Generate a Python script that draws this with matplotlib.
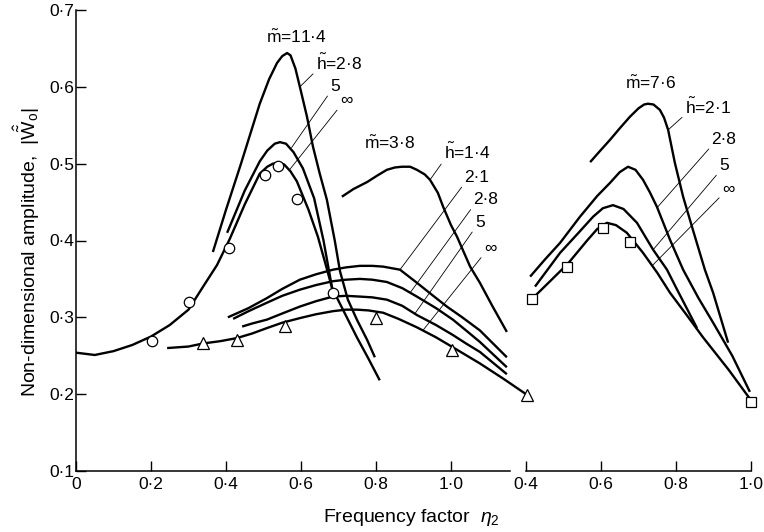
import matplotlib.pyplot as plt

plt.rcParams['font.family'] = ['Liberation Sans', 'DejaVu Sans']
plt.rcParams['mathtext.fontset'] = 'custom'
plt.rcParams['mathtext.rm'] = 'Liberation Sans'
plt.rcParams['mathtext.it'] = 'Liberation Sans:italic'

# ---- left panel: m~ = 11.4 (circles) ----
m114_h28_x = [0.365, 0.40, 0.44, 0.49, 0.515, 0.536, 0.55, 0.563, 0.572, 0.585, 0.597, 0.616, 0.632, 0.65,
              0.669, 0.69, 0.704, 0.725, 0.749, 0.776, 0.797]
m114_h28_y = [0.385, 0.44, 0.50, 0.578, 0.610, 0.631, 0.640, 0.644, 0.641, 0.624, 0.600, 0.561, 0.522, 0.487,
              0.453, 0.400, 0.360, 0.323, 0.297, 0.271, 0.248]
m114_h5_x = [0.403, 0.45, 0.49, 0.51, 0.53, 0.544, 0.56, 0.58, 0.605, 0.635, 0.66, 0.683]
m114_h5_y = [0.410, 0.465, 0.503, 0.517, 0.526, 0.528, 0.526, 0.515, 0.494, 0.455, 0.400, 0.338]
m114_inf_x = [0.0, 0.05, 0.1, 0.15, 0.2, 0.25, 0.3, 0.339, 0.376, 0.41, 0.45, 0.49, 0.51, 0.525, 0.539, 0.555,
              0.572, 0.589, 0.62, 0.645, 0.665, 0.683, 0.717, 0.749, 0.779, 0.81]
m114_inf_y = [0.254, 0.251, 0.256, 0.264, 0.275, 0.290, 0.310, 0.340, 0.368, 0.402, 0.447, 0.487, 0.496, 0.500,
              0.501, 0.499, 0.490, 0.477, 0.440, 0.405, 0.370, 0.338, 0.305, 0.274, 0.247, 0.218]
circles_x = [0.202, 0.30, 0.408, 0.504, 0.539, 0.589, 0.685]
circles_y = [0.269, 0.32, 0.39, 0.485, 0.497, 0.454, 0.332]

# ---- left panel: m~ = 3.8 (triangles) ----
m38_h14_x = [0.709, 0.74, 0.776, 0.805, 0.829, 0.85, 0.869, 0.891, 0.909, 0.93, 0.944, 0.965, 0.979, 1.0,
             1.016, 1.051, 1.077, 1.11, 1.149]
m38_h14_y = [0.457, 0.467, 0.476, 0.485, 0.492, 0.495, 0.496, 0.496, 0.492, 0.486, 0.479, 0.462, 0.444, 0.420,
             0.405, 0.366, 0.345, 0.315, 0.281]
m38_h21_x = [0.405, 0.46, 0.509, 0.55, 0.597, 0.64, 0.685, 0.72, 0.757, 0.79, 0.819, 0.864, 0.909, 0.95, 0.989,
             1.03, 1.077, 1.149]
m38_h21_y = [0.300, 0.312, 0.325, 0.337, 0.349, 0.356, 0.362, 0.365, 0.367, 0.367, 0.366, 0.362, 0.345, 0.329,
             0.314, 0.300, 0.283, 0.248]
m38_h28_x = [0.419, 0.46, 0.509, 0.55, 0.597, 0.64, 0.685, 0.72, 0.757, 0.79, 0.829, 0.87, 0.909, 0.96, 1.005,
             1.04, 1.077, 1.149]
m38_h28_y = [0.298, 0.308, 0.319, 0.328, 0.336, 0.342, 0.347, 0.349, 0.350, 0.349, 0.346, 0.338, 0.327, 0.312,
             0.297, 0.283, 0.268, 0.235]
m38_h5_x = [0.443, 0.47, 0.509, 0.55, 0.597, 0.64, 0.685, 0.72, 0.757, 0.79, 0.829, 0.87, 0.909, 0.96, 1.005,
            1.04, 1.077, 1.149]
m38_h5_y = [0.288, 0.292, 0.297, 0.305, 0.314, 0.321, 0.327, 0.328, 0.327, 0.326, 0.323, 0.315, 0.303, 0.290,
            0.277, 0.266, 0.255, 0.226]
m38_inf_x = [0.243, 0.30, 0.339, 0.385, 0.429, 0.47, 0.509, 0.55, 0.597, 0.64, 0.685, 0.72, 0.749, 0.78, 0.819,
             0.86, 0.909, 0.96, 1.005, 1.077, 1.14, 1.203]
m38_inf_y = [0.260, 0.262, 0.266, 0.269, 0.273, 0.279, 0.286, 0.293, 0.299, 0.304, 0.308, 0.310, 0.310, 0.309,
             0.306, 0.298, 0.287, 0.274, 0.261, 0.240, 0.220, 0.199]
triangles_x = [0.339, 0.429, 0.557, 0.80, 1.003, 1.203]
triangles_y = [0.267, 0.271, 0.289, 0.299, 0.258, 0.199]

# ---- right panel: m~ = 7.6 (squares) ----
m76_h21_x = [0.571, 0.60, 0.624, 0.65, 0.677, 0.70, 0.715, 0.725, 0.74, 0.757, 0.768, 0.779, 0.797, 0.819,
             0.845, 0.877, 0.899, 0.939]
m76_h21_y = [0.502, 0.518, 0.531, 0.546, 0.561, 0.572, 0.577, 0.578, 0.577, 0.570, 0.560, 0.544, 0.501, 0.457,
             0.414, 0.362, 0.332, 0.267]
m76_h28_x = [0.411, 0.45, 0.491, 0.544, 0.59, 0.624, 0.65, 0.672, 0.692, 0.712, 0.73, 0.749, 0.784, 0.819,
             0.86, 0.899, 0.95, 0.997]
m76_h28_y = [0.353, 0.375, 0.397, 0.431, 0.458, 0.475, 0.489, 0.496, 0.492, 0.479, 0.463, 0.444, 0.401, 0.362,
             0.325, 0.293, 0.250, 0.203]
m76_h5_x = [0.424, 0.491, 0.54, 0.579, 0.605, 0.632, 0.66, 0.696, 0.739, 0.776, 0.803, 0.856]
m76_h5_y = [0.340, 0.384, 0.410, 0.431, 0.442, 0.446, 0.441, 0.423, 0.388, 0.362, 0.336, 0.286]
m76_inf_x = [0.416, 0.46, 0.512, 0.563, 0.59, 0.616, 0.64, 0.669, 0.712, 0.75, 0.784, 0.83, 0.872, 0.94, 1.0]
m76_inf_y = [0.324, 0.345, 0.370, 0.400, 0.415, 0.423, 0.420, 0.410, 0.384, 0.358, 0.332, 0.302, 0.274, 0.232,
             0.192]
squares_x = [0.416, 0.509, 0.605, 0.677, 1.0]
squares_y = [0.324, 0.366, 0.416, 0.398, 0.19]

xticks_left = [0, 0.2, 0.4, 0.6, 0.8, 1.0]
xticklabels_left = ['0', '0·2', '0·4', '0·6', '0·8', '1·0']
xticks_right = [0.4, 0.6, 0.8, 1.0]
xticklabels_right = ['0·4', '0·6', '0·8', '1·0']
yticks = [0.1, 0.2, 0.3, 0.4, 0.5, 0.6, 0.7]
yticklabels = ['0·1', '0·2', '0·3', '0·4', '0·5', '0·6', '0·7']

W, H = 764, 532
fig = plt.figure(figsize=(W / 100, H / 100), dpi=100)
ax1 = fig.add_axes([76 / W, 61 / H, 450 / W, 461 / H])
ax2 = fig.add_axes([526 / W, 61 / H, 225 / W, 461 / H])

lw = 1.7
for ax in (ax1, ax2):
    ax.set_ylim(0.1, 0.7)
    ax.patch.set_alpha(0)
    for s in ('top', 'right'):
        ax.spines[s].set_visible(False)
    ax.spines['bottom'].set_linewidth(1.1)
    ax.spines['left'].set_linewidth(1.1)
    ax.tick_params(direction='in', length=7, width=1, labelsize=12.5, pad=4)

# left panel
ax1.set_xlim(0, 1.2)
ax1.spines['bottom'].set_bounds(0, 1.157)
ax1.set_xticks(xticks_left, xticklabels_left)
ax1.set_yticks(yticks, yticklabels)
ax1.tick_params(axis='y', pad=1)

for xs, ys in [(m114_h28_x, m114_h28_y), (m114_h5_x, m114_h5_y), (m114_inf_x, m114_inf_y),
               (m38_h14_x, m38_h14_y), (m38_h21_x, m38_h21_y), (m38_h28_x, m38_h28_y),
               (m38_h5_x, m38_h5_y), (m38_inf_x, m38_inf_y)]:
    ax1.plot(xs, ys, color='black', lw=lw, clip_on=False, solid_capstyle='butt')
ax1.plot(circles_x, circles_y, 'o', ms=7.5, mfc='white', mec='black', mew=0.9, clip_on=False)
ax1.plot(triangles_x, triangles_y, '^', ms=8.5, mfc='white', mec='black', mew=0.9, clip_on=False)

# right panel
ax2.set_xlim(0.4, 1.0)
ax2.spines['left'].set_visible(False)
ax2.spines['bottom'].set_bounds(0.4, 1.0)
ax2.set_xticks(xticks_right, xticklabels_right)
ax2.set_yticks([])
for xs, ys in [(m76_h21_x, m76_h21_y), (m76_h28_x, m76_h28_y), (m76_h5_x, m76_h5_y), (m76_inf_x, m76_inf_y)]:
    ax2.plot(xs, ys, color='black', lw=lw, clip_on=False, solid_capstyle='butt')
ax2.plot(squares_x, squares_y, 's', ms=7, mfc='white', mec='black', mew=0.9, clip_on=False)

# curve labels with leader lines
fs = 12.5
lead = dict(arrowstyle='-', lw=0.6, color='black', shrinkA=0, shrinkB=0)
ax1.text(0.587, 0.664, r'$\tilde{\mathrm{m}}$=11·4', fontsize=fs, ha='center', va='center')
ax1.text(0.837, 0.527, r'$\tilde{\mathrm{m}}$=3·8', fontsize=fs, ha='center', va='center')
ax2.text(0.731, 0.605, r'$\tilde{\mathrm{m}}$=7·6', fontsize=fs, ha='center', va='center')

labels_left = [
    (r'$\tilde{\mathrm{h}}$=2·8', (0.701, 0.631), (0.597, 0.600)),
    ('5', (0.691, 0.601), (0.575, 0.521)),
    ('∞', (0.720, 0.582), (0.571, 0.493)),
    (r'$\tilde{\mathrm{h}}$=1·4', (1.043, 0.515), (0.944, 0.479)),
    ('2·1', (1.069, 0.482), (0.864, 0.362)),
    ('2·8', (1.093, 0.453), (0.891, 0.332)),
    ('5', (1.077, 0.424), (0.904, 0.305)),
    ('∞', (1.104, 0.390), (0.925, 0.283)),
]
labels_right = [
    (r'$\tilde{\mathrm{h}}$=2·1', (0.885, 0.574), (0.779, 0.544)),
    ('2·8', (0.928, 0.531), (0.750, 0.443)),
    ('5', (0.928, 0.497), (0.739, 0.388)),
    ('∞', (0.939, 0.467), (0.736, 0.367)),
]
for ax, labels in ((ax1, labels_left), (ax2, labels_right)):
    for txt, pos, tip in labels:
        ax.annotate(txt, xy=tip, xytext=pos, fontsize=fs, ha='center', va='center',
                    arrowprops=dict(lead, relpos=(0.0, 0.1)), annotation_clip=False)

fig.text(27 / W, 1 - 252 / H, r'Non-dimensional amplitude,  $|\hat{\tilde{\mathrm{W}}}_{\mathrm{o}}|$',
         rotation=90, ha='center', va='center', fontsize=14)
fig.text(411 / W, 1 - 518 / H, r'Frequency factor  $\eta_2$', ha='center', va='center', fontsize=14)

fig.savefig('out.png', dpi=100, facecolor='white')
